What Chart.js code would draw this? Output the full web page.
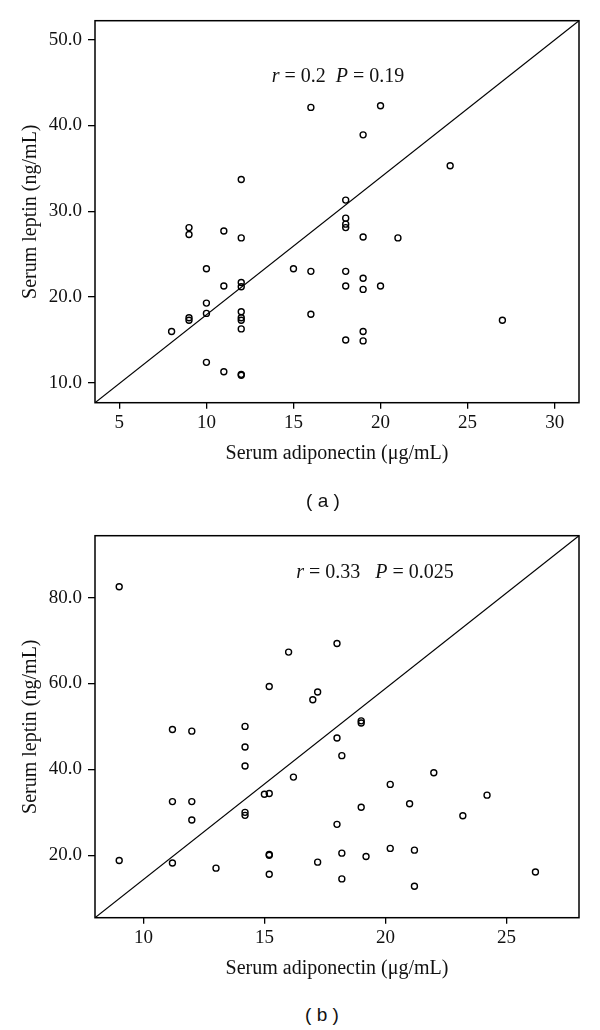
<!DOCTYPE html>
<html>
<head>
<meta charset="utf-8">
<script src="https://cdn.jsdelivr.net/npm/chart.js@4"></script>
<style>
  body { margin: 0; background: #fff; width: 600px; height: 1030px; position: relative; overflow: hidden; }
  canvas { position: absolute; left: 0; }
  .note { position: absolute; font-family: "Liberation Serif", serif; font-size: 20px; color: #111; white-space: pre; transform: translate(-50%, -50%); }
  .cap { position: absolute; font-family: "Liberation Sans", Arial, sans-serif; font-size: 19px; color: #111; white-space: pre; transform: translate(-50%, -50%); }
</style>
</head>
<body>
<canvas id="chartA" width="600" height="480" style="top:0"></canvas>
<canvas id="chartB" width="600" height="510" style="top:480px"></canvas>
<div class="note" style="left:338px;top:75px"><i>r</i> = 0.2  <i>P</i> = 0.19</div>
<div class="note" style="left:375px;top:571px"><i>r</i> = 0.33   <i>P</i> = 0.025</div>
<div class="cap" style="left:323px;top:501px">( a )</div>
<div class="cap" style="left:322px;top:1015px">( b )</div>
<script>
// --- panel (a) ---
const adipoA = [16, 20, 19, 24, 12, 18, 18, 18, 18, 9, 9, 11, 12, 19, 21,
                10, 11, 12, 12, 15, 16, 18, 19, 18, 19, 20, 10, 10, 9, 9,
                8, 12, 12, 12, 12, 16, 19, 18, 19, 27, 10, 11, 12, 12];
const leptinA = [42.1, 42.3, 38.9, 35.3, 33.7, 31.3, 29.2, 28.5, 28.1, 28.1, 27.3, 27.7, 26.9, 27.0, 26.9,
                 23.3, 21.3, 21.7, 21.2, 23.3, 23.0, 23.0, 22.2, 21.3, 20.9, 21.3, 19.3, 18.1, 17.6, 17.3,
                 16.0, 18.3, 17.6, 17.3, 16.3, 18.0, 16.0, 15.0, 14.9, 17.3, 12.4, 11.3, 11.0, 10.9];
const xRangeA = [3.6, 31.4];
const yRangeA = [7.7, 52.2];
const xTicksA = [5, 10, 15, 20, 25, 30];
const yTicksA = [10, 20, 30, 40, 50];

// --- panel (b) ---
const adipoB = [9, 16, 18, 15.2, 17.0, 17.2, 11.2, 12, 14.2, 14.2, 14.2, 19, 19, 18, 18.2,
                16.2, 22, 20.2, 15, 15.2, 24.2, 21, 19, 11.2, 12, 12, 14.2, 14.2, 23.2, 18,
                9, 11.2, 13, 15.2, 15.2, 15.2, 17.2, 18.2, 18.2, 19.2, 20.2, 21.2, 21.2, 26.2];
const leptinB = [82.5, 67.3, 69.3, 59.3, 56.2, 58.0, 49.3, 48.9, 50.0, 45.2, 40.8, 51.3, 50.8, 47.3, 43.2,
                 38.2, 39.2, 36.5, 34.2, 34.4, 34.0, 32.0, 31.2, 32.5, 32.5, 28.2, 30.0, 29.3, 29.2, 27.2,
                 18.8, 18.2, 17.0, 20.2, 20.0, 15.6, 18.4, 20.5, 14.5, 19.7, 21.6, 21.2, 12.8, 16.1];
const xRangeB = [8, 28];
const yRangeB = [5.47, 94.4];
const xTicksB = [10, 15, 20, 25];
const yTicksB = [20, 40, 60, 80];

Chart.defaults.font.family = '"Liberation Serif", "Times New Roman", serif';
Chart.defaults.color = '#111';

// box round the plot area
const framePlugin = {
    id: 'frame',
    afterDatasetsDraw(chart) {
        const { ctx, chartArea: a } = chart;
        ctx.save();
        ctx.strokeStyle = '#000';
        ctx.lineWidth = 1.5;
        ctx.strokeRect(a.left, a.top, a.right - a.left, a.bottom - a.top);
        ctx.restore();
    }
};

function makeScatter(id, xs, ys, xRange, yRange, xTicks, yTicks, padTop, padBottom) {
    const points = xs.map((x, i) => ({ x: x, y: ys[i] }));
    // diagonal from corner to corner of the axes
    const diag = [{ x: xRange[0], y: yRange[0] }, { x: xRange[1], y: yRange[1] }];

    return new Chart(document.getElementById(id), {
        type: 'scatter',
        data: {
            datasets: [{
                data: points,
                pointStyle: 'circle',
                pointRadius: 3,
                borderWidth: 1.4,
                borderColor: '#000',
                backgroundColor: 'rgba(0,0,0,0)'
            }, {
                data: diag,
                showLine: true,
                pointRadius: 0,
                borderColor: '#000',
                borderWidth: 1.2,
                fill: false
            }]
        },
        plugins: [framePlugin],
        options: {
            responsive: false,
            animation: false,
            devicePixelRatio: 1,
            layout: { padding: { left: 0, right: 21, top: padTop, bottom: padBottom } },
            plugins: { legend: { display: false }, tooltip: { enabled: false } },
            scales: {
                x: {
                    type: 'linear',
                    min: xRange[0],
                    max: xRange[1],
                    afterBuildTicks: s => { s.ticks = xTicks.map(v => ({ value: v })); },
                    afterFit: s => { s.height = 64.8; },
                    border: { display: false },
                    grid: { drawOnChartArea: false, drawTicks: true, tickLength: 6, color: '#000', lineWidth: 1.3 },
                    ticks: { padding: 2.6, font: { size: 19 } },
                    title: { display: true, text: 'Serum adiponectin (μg/mL)', font: { size: 20 }, padding: { top: 0, bottom: 2.2 } }
                },
                y: {
                    type: 'linear',
                    min: yRange[0],
                    max: yRange[1],
                    afterBuildTicks: s => { s.ticks = yTicks.map(v => ({ value: v })); },
                    afterFit: s => { s.width = 95; },
                    border: { display: false },
                    grid: { drawOnChartArea: false, drawTicks: true, tickLength: 7, color: '#000', lineWidth: 1.3 },
                    ticks: { padding: 6, font: { size: 19 }, callback: v => v.toFixed(1) },
                    title: { display: true, text: 'Serum leptin (ng/mL)', font: { size: 20 }, padding: { top: 19, bottom: 0 } }
                }
            }
        }
    });
}

makeScatter('chartA', adipoA, leptinA, xRangeA, yRangeA, xTicksA, yTicksA, 20.7, 12.5);
makeScatter('chartB', adipoB, leptinB, xRangeB, yRangeB, xTicksB, yTicksB, 55.7, 7.5);
</script>
</body>
</html>
